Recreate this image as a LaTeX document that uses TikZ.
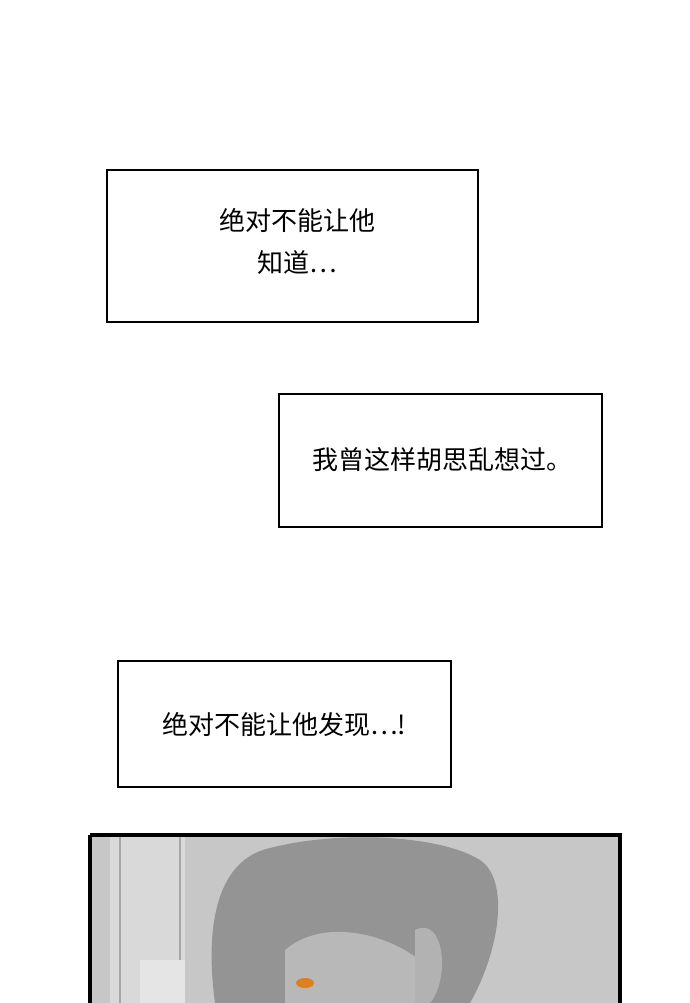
\documentclass[tikz,border=0pt]{standalone}
\usepackage{fontspec}
\newfontfamily\cjk{Noto Sans CJK SC}
\begin{document}
\begin{tikzpicture}[x=1pt,y=-1pt,
  box/.style={draw=black,line width=2pt,fill=white},
  txt/.style={font=\cjk\fontsize{26}{42}\selectfont,align=center,inner sep=0pt}]
\useasboundingbox (0,0) rectangle (690,1003);
\fill[white] (0,0) rectangle (690,1003);
% text boxes
\draw[box] (107,170) rectangle (478,322);
\node[txt] (t1) at (297,241) {绝对不能让他\\知道…};
\draw[box] (279,394) rectangle (602,527);
\node[txt] (t2) at (442,460) {我曾这样胡思乱想过。};
\draw[box] (118,661) rectangle (451,787);
\node[txt] (t3) at (284,725) {绝对不能让他发现…!};
% bottom panel
\begin{scope}
\clip (90,835) rectangle (620,1003);
\fill[black!22] (90,835) rectangle (620,1003);
\fill[black!15] (110,835) rectangle (185,1003);
\draw[black!35,line width=1.5pt] (120,835) -- (120,1003) (180,835)--(180,1003);
\fill[black!10] (140,960) rectangle (185,1003);
% hair
\fill[black!42] (215,1003) .. controls (205,930) and (215,860) .. (270,848)
  .. controls (340,830) and (440,835) .. (480,860)
  .. controls (510,880) and (500,950) .. (470,1003) -- cycle;
\fill[black!28] (285,950) .. controls (320,920) and (380,930) .. (420,960)
  -- (420,1003) -- (285,1003) -- cycle;
\fill[black!30] (415,930) .. controls (445,915) and (450,980) .. (430,1003) -- (415,1003) -- cycle;
\fill[orange!50!brown] (305,983) ellipse (9pt and 5pt);
\end{scope}
\draw[black,line width=4.5pt] (90,835) -- (90,1003) (90,835) -- (620,835) -- (620,1003);
\end{tikzpicture}
\end{document}
